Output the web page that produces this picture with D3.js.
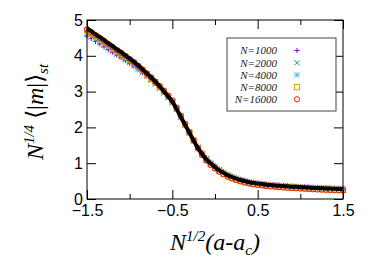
<!DOCTYPE html>
<html>
<head>
<meta charset="utf-8">
<script src="https://cdn.jsdelivr.net/npm/d3@7"></script>
<style>
  body { margin: 0; background: #fff; }
  svg { display: block; }
</style>
</head>
<body>
<svg id="chart" width="374" height="262"></svg>
<script>
// x grid shared by every series
const xs = [-1.5,-1.45,-1.4,-1.35,-1.3,-1.25,-1.2,-1.15,-1.1,-1.05,-1.0,
  -0.95,-0.9,-0.85,-0.8,-0.75,-0.7,-0.65,-0.6,-0.55,-0.5,
  -0.45,-0.4,-0.35,-0.3,-0.25,-0.2,-0.15,-0.1,-0.05,0.0,
  0.05,0.1,0.15,0.2,0.25,0.3,0.35,0.4,0.45,0.5,
  0.55,0.6,0.65,0.7,0.75,0.8,0.85,0.9,0.95,1.0,
  1.05,1.1,1.15,1.2,1.25,1.3,1.35,1.4,1.45,1.5];

// scaling curve (black line)
const curveY = [4.77,4.69,4.60,4.52,4.44,4.35,4.27,4.18,4.10,4.01,3.92,
  3.83,3.73,3.62,3.51,3.40,3.28,3.15,3.01,2.87,2.72,
  2.51,2.29,2.07,1.85,1.63,1.42,1.25,1.10,0.99,0.89,
  0.80,0.73,0.66,0.61,0.57,0.53,0.50,0.47,0.45,0.43,
  0.42,0.40,0.39,0.38,0.37,0.36,0.355,0.345,0.34,0.33,
  0.325,0.32,0.31,0.305,0.30,0.295,0.29,0.285,0.28,0.28];

const n1000 = [4.55,4.48,4.40,4.33,4.25,4.17,4.10,4.02,3.95,3.87,3.79,
  3.71,3.62,3.53,3.43,3.33,3.23,3.11,2.98,2.85,2.71,
  2.51,2.30,2.09,1.88,1.67,1.47,1.30,1.15,1.03,0.93,
  0.84,0.76,0.69,0.64,0.59,0.55,0.52,0.49,0.47,0.45,
  0.43,0.42,0.41,0.40,0.39,0.38,0.37,0.36,0.355,0.35,
  0.34,0.335,0.33,0.325,0.32,0.315,0.31,0.305,0.30,0.30];

const n2000 = [4.61,4.53,4.45,4.37,4.29,4.21,4.13,4.05,3.97,3.89,3.81,
  3.72,3.63,3.53,3.43,3.32,3.21,3.09,2.96,2.83,2.69,
  2.50,2.29,2.07,1.86,1.65,1.45,1.28,1.13,1.01,0.91,
  0.82,0.75,0.68,0.62,0.58,0.54,0.51,0.48,0.46,0.44,
  0.42,0.41,0.40,0.39,0.38,0.37,0.36,0.35,0.345,0.34,
  0.33,0.325,0.32,0.315,0.31,0.305,0.30,0.295,0.29,0.29];

const n4000 = [4.66,4.58,4.50,4.42,4.34,4.26,4.18,4.10,4.02,3.94,3.86,
  3.77,3.67,3.57,3.46,3.35,3.24,3.11,2.98,2.84,2.70,
  2.50,2.28,2.06,1.84,1.63,1.43,1.26,1.11,0.99,0.89,
  0.80,0.73,0.66,0.61,0.56,0.52,0.49,0.46,0.44,0.42,
  0.41,0.39,0.38,0.37,0.36,0.35,0.345,0.335,0.33,0.32,
  0.315,0.31,0.30,0.295,0.29,0.285,0.28,0.275,0.27,0.27];

const n8000 = [4.71,4.63,4.55,4.47,4.39,4.30,4.22,4.14,4.06,3.97,3.89,
  3.80,3.70,3.60,3.49,3.38,3.27,3.14,3.01,2.87,2.73,
  2.53,2.31,2.08,1.86,1.63,1.42,1.24,1.09,0.97,0.87,
  0.78,0.70,0.64,0.59,0.54,0.51,0.47,0.45,0.42,0.41,
  0.39,0.38,0.37,0.36,0.35,0.34,0.33,0.32,0.315,0.31,
  0.30,0.295,0.29,0.28,0.275,0.27,0.265,0.26,0.255,0.25];

const n16000 = [4.74,4.66,4.58,4.50,4.42,4.33,4.25,4.16,4.08,4.00,3.91,
  3.82,3.72,3.62,3.51,3.40,3.28,3.16,3.03,2.89,2.75,
  2.55,2.33,2.10,1.87,1.64,1.42,1.23,1.07,0.95,0.85,
  0.76,0.69,0.62,0.57,0.53,0.49,0.46,0.43,0.41,0.39,
  0.38,0.36,0.35,0.34,0.33,0.32,0.31,0.305,0.30,0.29,
  0.285,0.28,0.27,0.265,0.26,0.255,0.25,0.245,0.24,0.24];

const seriesNames = ["N=1000", "N=2000", "N=4000", "N=8000", "N=16000"];
const seriesValues = [n1000, n2000, n4000, n8000, n16000];
const seriesColors = ["#9400d3", "#009e73", "#56b4e9", "#e69f00", "#e51e10"];
const seriesMarks = ["plus", "cross", "star", "square", "circle"];

const xTicks = [-1.5, -1, -0.5, 0, 0.5, 1, 1.5];
const xLabels = [-1.5, -0.5, 0.5, 1.5];
const yTicks = [0, 1, 2, 3, 4, 5];

// plot area
const plotLeft = 87, plotRight = 343, plotTop = 20, plotBottom = 199;

const svg = d3.select("#chart");

const x = d3.scaleLinear().domain([-1.5, 1.5]).range([plotLeft, plotRight]);
const y = d3.scaleLinear().domain([0, 5]).range([plotBottom, plotTop]);

// draw one gnuplot-style marker
function marker(g, type, cx, cy, color) {
  const s = 2.6;
  if (type === "plus" || type === "star") {
    g.append("path").attr("d", `M${cx - s},${cy}H${cx + s}M${cx},${cy - s}V${cy + s}`)
      .attr("stroke", color).attr("fill", "none");
  }
  if (type === "cross" || type === "star") {
    g.append("path").attr("d", `M${cx - s},${cy - s}L${cx + s},${cy + s}M${cx - s},${cy + s}L${cx + s},${cy - s}`)
      .attr("stroke", color).attr("fill", "none");
  }
  if (type === "square") {
    g.append("rect").attr("x", cx - s).attr("y", cy - s).attr("width", 2 * s).attr("height", 2 * s)
      .attr("stroke", color).attr("fill", "none");
  }
  if (type === "circle") {
    g.append("circle").attr("cx", cx).attr("cy", cy).attr("r", s)
      .attr("stroke", color).attr("fill", "none");
  }
}

// scatter series
const marks = svg.append("g").attr("stroke-width", 1);
seriesValues.forEach((vals, i) => {
  const g = marks.append("g");
  vals.forEach((v, j) => marker(g, seriesMarks[i], x(xs[j]), y(v), seriesColors[i]));
});

// black scaling curve on top
svg.append("path")
  .datum(xs.map((d, i) => [d, curveY[i]]))
  .attr("fill", "none")
  .attr("stroke", "#000")
  .attr("stroke-width", 4)
  .attr("d", d3.line().x(d => x(d[0])).y(d => y(d[1])).curve(d3.curveMonotoneX));

// axes, ticks pointing inward
const tickFont = "'Liberation Sans', Arial, sans-serif";

const xAxis = svg.append("g")
  .attr("transform", `translate(0,${plotBottom})`)
  .call(d3.axisBottom(x).tickValues(xTicks).tickSize(-9).tickPadding(6)
    .tickFormat(d => xLabels.includes(d) ? d3.format(".1f")(d) : ""));

const xTop = svg.append("g")
  .attr("transform", `translate(0,${plotTop})`)
  .call(d3.axisTop(x).tickValues(xTicks).tickSize(-9).tickFormat(""));

xAxis.selectAll(".tick line").attr("y2", d => xLabels.includes(d) ? -9 : -5);
xTop.selectAll(".tick line").attr("y2", d => xLabels.includes(d) ? 9 : 5);

svg.append("g")
  .attr("transform", `translate(${plotLeft},0)`)
  .call(d3.axisLeft(y).tickValues(yTicks).tickSize(-9).tickPadding(4).tickFormat(d3.format("d")));

svg.append("g")
  .attr("transform", `translate(${plotRight},0)`)
  .call(d3.axisRight(y).tickValues(yTicks).tickSize(-9).tickFormat(""));

svg.selectAll(".domain").remove();
svg.selectAll(".tick line").attr("stroke", "#000");
svg.selectAll(".tick text").attr("font-family", tickFont).attr("font-size", 16).attr("fill", "#000");

// frame
svg.append("rect")
  .attr("x", plotLeft).attr("y", plotTop)
  .attr("width", plotRight - plotLeft).attr("height", plotBottom - plotTop)
  .attr("fill", "none").attr("stroke", "#000").attr("stroke-width", 1);

// axis titles
const serif = "'Liberation Serif', 'Times New Roman', serif";

const xt = svg.append("text")
  .attr("x", 215).attr("y", 250)
  .attr("text-anchor", "middle")
  .attr("font-family", serif).attr("font-size", 24).attr("font-style", "italic");
xt.append("tspan").text("N");
xt.append("tspan").attr("font-size", 15).attr("dy", -9).text("1/2");
xt.append("tspan").attr("dy", 9).text("(a-a");
xt.append("tspan").attr("font-size", 15).attr("dy", 5).text("c");
xt.append("tspan").attr("dy", -5).text(")");

const yt = svg.append("text")
  .attr("transform", "translate(43,112) rotate(-90)")
  .attr("text-anchor", "middle")
  .attr("font-family", serif).attr("font-size", 24);
yt.append("tspan").attr("font-style", "italic").text("N");
yt.append("tspan").attr("font-style", "italic").attr("font-size", 15).attr("dy", -9).text("1/4");
yt.append("tspan").attr("dy", 9).text(" \u27E8|");
yt.append("tspan").attr("font-style", "italic").text("m");
yt.append("tspan").text("|\u27E9");
yt.append("tspan").attr("font-style", "italic").attr("font-size", 15).attr("dy", 5).text("st");

// legend
const legend = svg.append("g");
legend.append("rect")
  .attr("x", 227).attr("y", 38).attr("width", 109).attr("height", 73)
  .attr("fill", "#fff").attr("stroke", "#444").attr("stroke-width", 1);

seriesNames.forEach((name, i) => {
  const ly = 50.5 + i * 12.2;
  legend.append("text")
    .attr("x", 277).attr("y", ly + 3.8)
    .attr("text-anchor", "end")
    .attr("font-family", serif).attr("font-size", 11).attr("font-style", "italic")
    .attr("fill", "#222")
    .text(name);
  marker(legend, seriesMarks[i], 297, ly, seriesColors[i]);
});
</script>
</body>
</html>
